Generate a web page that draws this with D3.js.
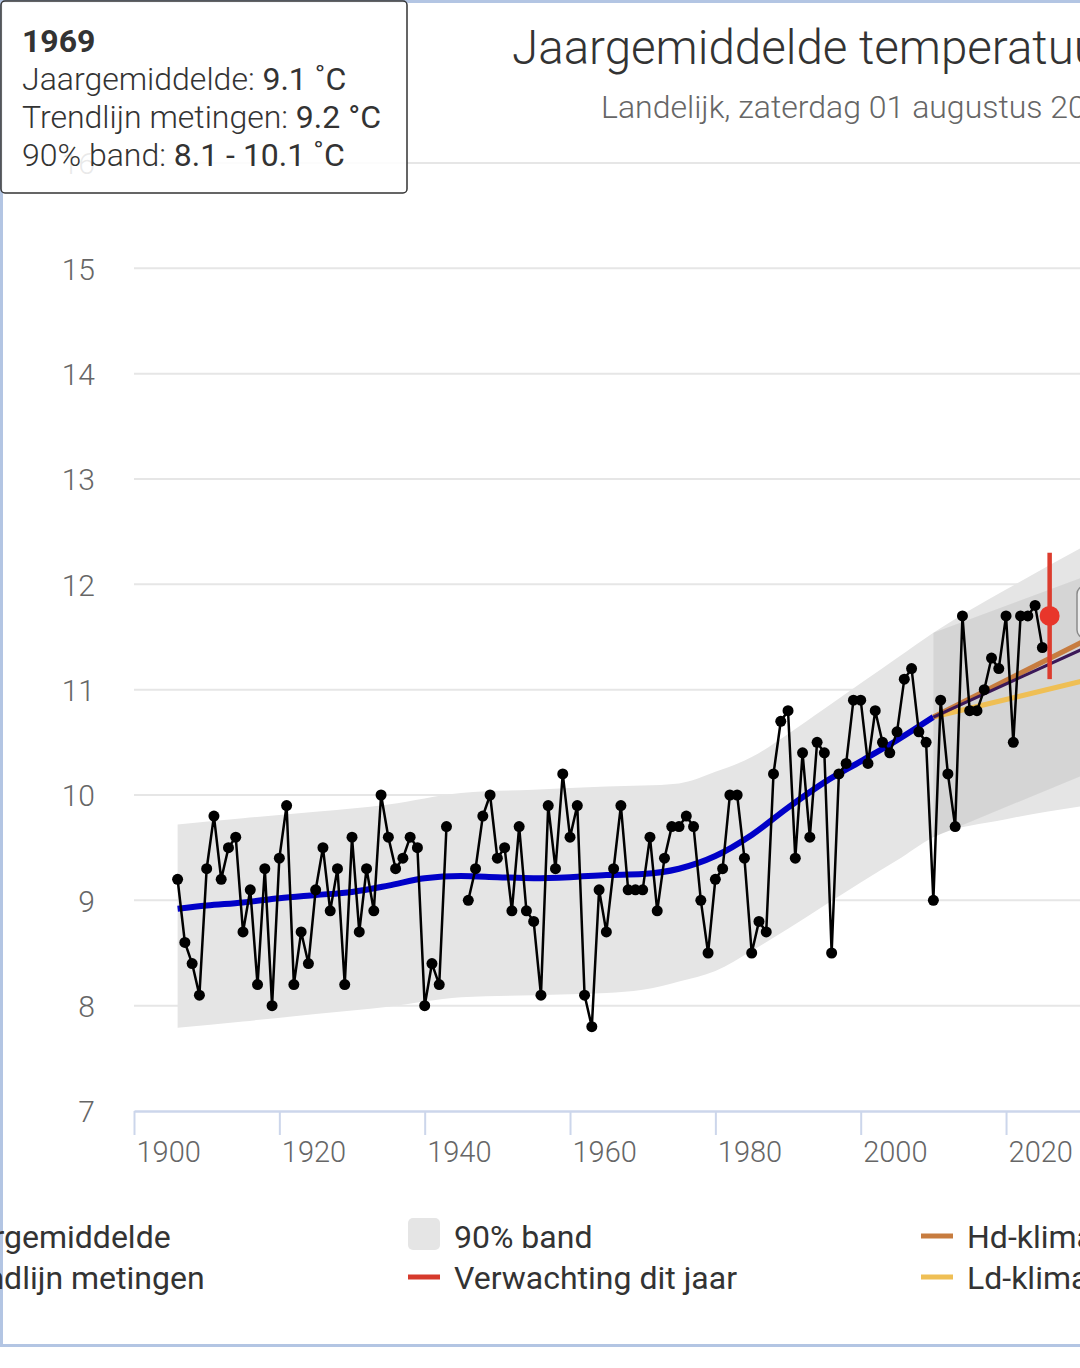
<!DOCTYPE html>
<html>
<head>
<meta charset="utf-8">
<script src="https://cdn.jsdelivr.net/npm/d3@7"></script>
<style>
  body { margin: 0; background: #fff; }
  svg { display: block; font-family: Roboto, "Noto Sans", sans-serif; }
</style>
</head>
<body>
<div id="chart"></div>
<script>
// jaargemiddelde temperatuur, landelijk (1944 en 1945 ontbreken)
const years = d3.range(1906, 2026);
const temps = [
  9.2, 8.6, 8.4, 8.1,                               // 1906-1909
  9.3, 9.8, 9.2, 9.5, 9.6, 8.7, 9.1, 8.2, 9.3, 8.0, // 1910-1919
  9.4, 9.9, 8.2, 8.7, 8.4, 9.1, 9.5, 8.9, 9.3, 8.2, // 1920-1929
  9.6, 8.7, 9.3, 8.9, 10.0, 9.6, 9.3, 9.4, 9.6, 9.5, // 1930-1939
  8.0, 8.4, 8.2, 9.7, null, null, 9.0, 9.3, 9.8, 10.0, // 1940-1949
  9.4, 9.5, 8.9, 9.7, 8.9, 8.8, 8.1, 9.9, 9.3, 10.2, // 1950-1959
  9.6, 9.9, 8.1, 7.8, 9.1, 8.7, 9.3, 9.9, 9.1, 9.1,  // 1960-1969
  9.1, 9.6, 8.9, 9.4, 9.7, 9.7, 9.8, 9.7, 9.0, 8.5,  // 1970-1979
  9.2, 9.3, 10.0, 10.0, 9.4, 8.5, 8.8, 8.7, 10.2, 10.7, // 1980-1989
  10.8, 9.4, 10.4, 9.6, 10.5, 10.4, 8.5, 10.2, 10.3, 10.9, // 1990-1999
  10.9, 10.3, 10.8, 10.5, 10.4, 10.6, 11.1, 11.2, 10.6, 10.5, // 2000-2009
  9.0, 10.9, 10.2, 9.7, 11.7, 10.8, 10.8, 11.0, 11.3, 11.2, // 2010-2019
  11.7, 10.5, 11.7, 11.7, 11.8, 11.4                 // 2020-2025
];

// trendlijn metingen
const trendYears = [1906, 1910, 1915, 1920, 1925, 1930, 1935, 1940, 1945, 1950, 1955, 1960,
  1965, 1970, 1975, 1980, 1985, 1990, 1995, 2000, 2005, 2010];
const trendValues = [8.92, 8.95, 8.98, 9.02, 9.05, 9.08, 9.14, 9.21, 9.23, 9.22, 9.21, 9.22,
  9.24, 9.25, 9.30, 9.42, 9.62, 9.88, 10.12, 10.32, 10.52, 10.74];

// 90% band
const bandYears = [1906, 1915, 1925, 1935, 1945, 1955, 1965, 1970, 1975, 1980, 1985, 1990,
  1995, 2000, 2005, 2010, 2020, 2031];
const bandLow = [7.79, 7.85, 7.92, 7.99, 8.08, 8.10, 8.12, 8.15, 8.23, 8.33, 8.52, 8.73,
  8.95, 9.17, 9.38, 9.60, 9.77, 9.90];
const bandHigh = [9.72, 9.78, 9.84, 9.91, 10.02, 10.05, 10.08, 10.09, 10.11, 10.22, 10.36, 10.58,
  10.82, 11.06, 11.30, 11.54, 11.95, 12.37];

// klimaatscenario's
const scenYears = [2010, 2031];
const scenLow = [9.60, 10.20];
const scenHigh = [11.54, 12.08];
const hdValues = [10.74, 11.47];
const midValues = [10.74, 11.40];
const ldValues = [10.74, 11.09];

// verwachting dit jaar
const expectYear = 2026;
const expectValue = 11.7;
const expectRange = [11.1, 12.3];

const yTicks = [7, 8, 9, 10, 11, 12, 13, 14, 15, 16];
const xTicks = [1900, 1920, 1940, 1960, 1980, 2000, 2020, 2040];

function tempChart({ width, height, selector }) {
    const x = d3.scaleLinear()
        .domain([1900, 2040])
        .range([134, 134 + 140 * 7.267]);

    const y = d3.scaleLinear()
        .domain([7, 16])
        .range([1111, 163]);

    const svg = d3.select(selector)
        .append("svg")
        .attr("width", width)
        .attr("height", height);

    // kader
    svg.append("rect")
        .attr("x", 1.5).attr("y", 1.5)
        .attr("width", width + 100).attr("height", 1344)
        .attr("fill", "#fff")
        .attr("stroke", "#b3c5e3")
        .attr("stroke-width", 3);

    svg.append("text")
        .attr("x", 512).attr("y", 64)
        .attr("font-size", 47.5).attr("font-weight", 300)
        .attr("fill", "#333")
        .text("Jaargemiddelde temperatuur");

    svg.append("text")
        .attr("x", 601).attr("y", 118)
        .attr("font-size", 32).attr("font-weight", 300)
        .attr("fill", "#666")
        .text("Landelijk, zaterdag 01 augustus 2026");

    // rasterlijnen
    svg.append("g")
        .attr("stroke", "#e6e6e6")
        .attr("stroke-width", 2)
        .selectAll("line")
        .data(yTicks.filter(d => d > 7))
        .join("line")
        .attr("x1", x(1900)).attr("x2", width)
        .attr("y1", d => y(d)).attr("y2", d => y(d));

    svg.append("g")
        .attr("fill", "#666")
        .attr("font-size", 30)
        .attr("font-weight", 300)
        .attr("text-anchor", "end")
        .selectAll("text")
        .data(yTicks)
        .join("text")
        .attr("x", 95)
        .attr("y", d => y(d))
        .attr("dy", "0.38em")
        .text(d => d);

    // banden
    const band = bandYears.map((yr, i) => ({ year: yr, lo: bandLow[i], hi: bandHigh[i] }));
    const scen = scenYears.map((yr, i) => ({ year: yr, lo: scenLow[i], hi: scenHigh[i] }));
    const area = d3.area()
        .curve(d3.curveMonotoneX)
        .x(d => x(d.year))
        .y0(d => y(d.lo))
        .y1(d => y(d.hi));

    svg.append("path")
        .datum(band)
        .attr("fill", "#e5e5e5")
        .attr("d", area);

    svg.append("path")
        .datum(scen)
        .attr("fill", "#000")
        .attr("fill-opacity", 0.065)
        .attr("d", area);

    // trendlijn en scenario's
    const curve = d3.line()
        .curve(d3.curveMonotoneX)
        .x(d => x(d.year))
        .y(d => y(d.value));

    svg.append("path")
        .datum(trendYears.map((yr, i) => ({ year: yr, value: trendValues[i] })))
        .attr("fill", "none")
        .attr("stroke", "#0000c8")
        .attr("stroke-width", 6)
        .attr("d", curve);

    [[ldValues, "#efbf55", 5], [hdValues, "#c77c3f", 5], [midValues, "#3b1858", 3]].forEach(([vals, color, w]) => {
        svg.append("path")
            .datum(scenYears.map((yr, i) => ({ year: yr, value: vals[i] })))
            .attr("fill", "none")
            .attr("stroke", color)
            .attr("stroke-width", w)
            .attr("d", curve);
    });

    // metingen
    const measured = years.map((yr, i) => ({ year: yr, value: temps[i] }));
    svg.append("path")
        .datum(measured)
        .attr("fill", "none")
        .attr("stroke", "#000")
        .attr("stroke-width", 2.5)
        .attr("d", d3.line()
            .defined(d => d.value != null)
            .x(d => x(d.year))
            .y(d => y(d.value)));

    svg.append("g")
        .attr("fill", "#000")
        .selectAll("circle")
        .data(measured.filter(d => d.value != null))
        .join("circle")
        .attr("cx", d => x(d.year))
        .attr("cy", d => y(d.value))
        .attr("r", 5.5);

    // verwachting
    svg.append("line")
        .attr("x1", x(expectYear)).attr("x2", x(expectYear))
        .attr("y1", y(expectRange[0])).attr("y2", y(expectRange[1]))
        .attr("stroke", "#dc3c2e")
        .attr("stroke-width", 4.5);

    svg.append("circle")
        .attr("cx", x(expectYear))
        .attr("cy", y(expectValue))
        .attr("r", 10)
        .attr("fill", "#e8362b");

    // x-as
    const xAxis = g => g
        .attr("transform", `translate(0,${y(7)})`)
        .call(d3.axisBottom(x).tickValues(xTicks).tickFormat(d3.format("d")).tickSize(24).tickSizeOuter(0))
        .call(g => g.select(".domain").attr("stroke", "#ccd6eb").attr("stroke-width", 2.5))
        .call(g => g.selectAll(".tick line").attr("stroke", "#ccd6eb").attr("stroke-width", 2))
        .call(g => g.selectAll(".tick text")
            .attr("fill", "#666")
            .attr("font-size", 29)
            .attr("font-weight", 300)
            .attr("font-family", "Roboto, sans-serif")
            .attr("text-anchor", "start")
            .attr("x", 2)
            .attr("y", 51)
            .attr("dy", null));

    svg.append("g").call(xAxis);

    // legenda
    const legend = [
        { label: "Jaargemiddelde", col: 0, row: 0, type: "dot", color: "#000" },
        { label: "Trendlijn metingen", col: 0, row: 1, type: "line", color: "#0000c8" },
        { label: "90% band", col: 1, row: 0, type: "rect", color: "#e5e5e5" },
        { label: "Verwachting dit jaar", col: 1, row: 1, type: "line", color: "#d63a2c" },
        { label: "Hd-klimaatscenario", col: 2, row: 0, type: "line", color: "#c77c3f" },
        { label: "Ld-klimaatscenario", col: 2, row: 1, type: "line", color: "#efbf55" }
    ];

    const item = svg.append("g")
        .selectAll("g")
        .data(legend)
        .join("g")
        .attr("transform", d => `translate(${-105 + d.col * 513},${1236 + d.row * 41})`);

    item.filter(d => d.type === "rect").append("rect")
        .attr("x", 0).attr("y", -18)
        .attr("width", 32).attr("height", 32)
        .attr("rx", 5)
        .attr("fill", d => d.color);

    item.filter(d => d.type === "line").append("line")
        .attr("x1", 0).attr("x2", 32)
        .attr("stroke", d => d.color)
        .attr("stroke-width", 5);

    item.filter(d => d.type === "dot").append("circle")
        .attr("cx", 16).attr("r", 5)
        .attr("fill", d => d.color);

    item.append("text")
        .attr("x", 46)
        .attr("y", 12)
        .attr("font-size", 32)
        .attr("fill", "#333")
        .text(d => d.label);

    // tweede tooltip, rechts afgesneden
    svg.append("rect")
        .attr("x", 1077).attr("y", 586)
        .attr("width", 80).attr("height", 52)
        .attr("rx", 8)
        .attr("fill", "#ececec")
        .attr("stroke", "#8a8a8a")
        .attr("stroke-width", 1.5);

    // tooltip 1969
    const tip = svg.append("g");
    tip.append("rect")
        .attr("x", 1).attr("y", 1)
        .attr("width", 406).attr("height", 192)
        .attr("rx", 4)
        .attr("fill", "#fff")
        .attr("fill-opacity", 0.86)
        .attr("stroke", "#333")
        .attr("stroke-width", 1.5);

    const i1969 = years.indexOf(1969);
    const b1969 = [8.1, 10.1];
    const tipText = tip.append("text")
        .attr("font-size", 32)
        .attr("fill", "#333");

    tipText.append("tspan")
        .attr("x", 22).attr("y", 52)
        .attr("font-weight", 700)
        .text("1969");

    const rows = [
        ["Jaargemiddelde: ", `${temps[i1969].toFixed(1)} ˚C`],
        ["Trendlijn metingen: ", "9.2 °C"],
        ["90% band: ", `${b1969[0].toFixed(1)} - ${b1969[1].toFixed(1)} ˚C`]
    ];
    rows.forEach(([lab, val], i) => {
        tipText.append("tspan")
            .attr("x", 22).attr("y", 90 + i * 38)
            .attr("font-weight", 300)
            .text(lab);
        tipText.append("tspan")
            .attr("font-weight", 400)
            .text(val);
    });
}

tempChart({ width: 1080, height: 1368, selector: "#chart" });
</script>
</body>
</html>
